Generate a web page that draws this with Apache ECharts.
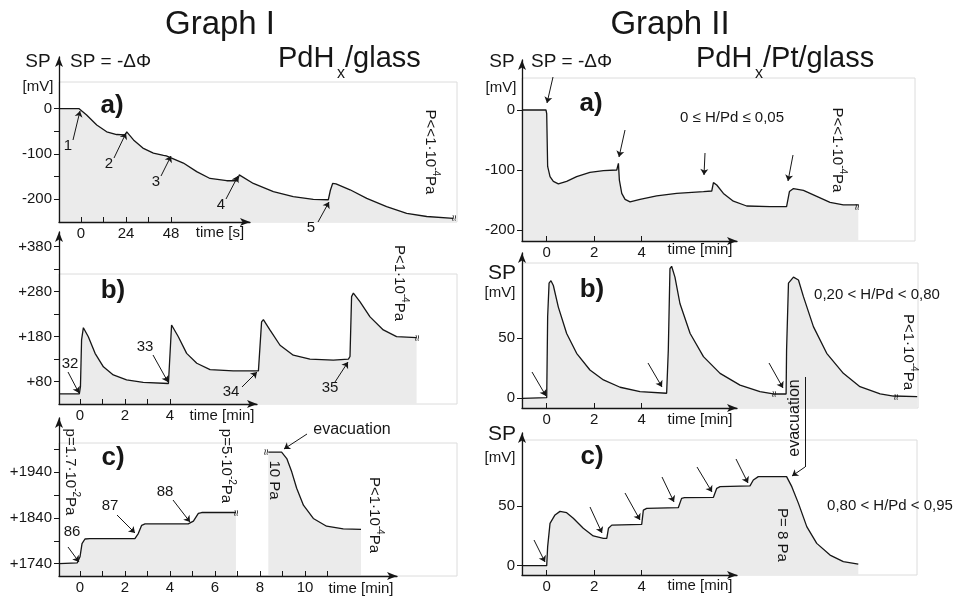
<!DOCTYPE html>
<html>
<head>
<meta charset="utf-8">
<script src="https://cdn.jsdelivr.net/npm/echarts@6/dist/echarts.min.js"></script>
<style>
  html, body { margin: 0; padding: 0; background: #fff; }
  #chart { width: 955px; height: 599px; }
</style>
</head>
<body>
<div id="chart"></div>
<script>
// Graph I a) : time [s], SP [mV]
const iaTime = [-11.7, -1, 0, 3, 8.4, 13.7, 19, 23.5, 24.4, 28, 33, 38.6, 44, 45.5, 46.2, 54.6, 61.7, 68.8, 77.7, 83.4, 84.4, 91.9, 102.6, 113.2, 123.9, 131.9, 133, 134.2, 136, 143.5, 152.4, 163, 173.7, 184.4, 198.6]
const iaSP = [0, 0, -3, -14, -36, -51, -57, -58, -51, -69, -87, -98, -103, -104, -100, -120, -139, -154, -159, -159, -146, -165, -183, -194, -200, -201, -180, -165, -166, -179, -198, -216, -231, -238, -242]

// Graph I b) : time [min]
const ibTime = [-0.93, -0.03, 0.02, 0.07, 0.15, 0.37, 0.67, 1.04, 1.48, 2.07, 2.81, 3.93, 4.0, 4.07, 4.13, 4.37, 4.74, 5.19, 5.78, 6.81, 7.93, 8.0, 8.07, 8.15, 8.44, 8.89, 9.48, 10.22, 11.26, 11.93, 12.0, 12.07, 12.15, 12.44, 12.89, 13.48, 14.07, 14.96]
const ibSP = [53, 53, 69, 173, 200, 180, 143, 113, 95, 84, 78.5, 76, 77, 206, 209, 180, 143, 121, 107, 104, 104, 106, 213, 218, 195, 161, 139, 130, 128, 130, 136, 269, 277, 258, 224, 195, 180, 178]

// Graph I c) : two pieces, gap for the pressure change
const ic1Time = [-0.93, -0.12, 0, 0.09, 0.22, 0.44, 2.44, 2.59, 2.74, 2.89, 4.81, 5.04, 5.26, 5.41, 6.93]
const ic1SP = [1740, 1742, 1755, 1784, 1794, 1795, 1795, 1806, 1824, 1827, 1827, 1833, 1850, 1852, 1852]
const ic2Time = [8.37, 8.96, 9.19, 9.41, 9.63, 9.93, 10.37, 10.96, 11.7, 12.49]
const ic2SP = [1984, 1984, 1970, 1941, 1905, 1868, 1839, 1822, 1816, 1815]

// Graph II a)
const iiaTime = [-1.04, -0.03, 0, 0.04, 0.14, 0.28, 0.49, 0.84, 1.26, 1.82, 2.39, 2.95, 3.02, 3.06, 3.16, 3.3, 3.51, 3.93, 4.63, 5.47, 6.6, 6.95, 7.02, 7.16, 7.44, 7.86, 8.42, 9.4, 10.1, 10.22, 10.39, 10.81, 11.37, 11.93, 12.49, 13.12]
const iiaSP = [0, 0, -6, -94, -111, -119, -123, -119, -111, -104, -101, -100, -89, -117, -139, -149, -153, -149, -143, -139, -136, -135, -121, -125, -139, -152, -160, -161, -161, -136, -131, -134, -144, -154, -158, -158]

// Graph II b)
const iibTime = [-1.02, 0, 0.04, 0.1, 0.18, 0.28, 0.49, 0.84, 1.26, 1.82, 2.39, 3.09, 3.93, 5.05, 5.12, 5.19, 5.26, 5.4, 5.61, 6.04, 6.6, 7.3, 8.14, 8.98, 9.54, 10.08, 10.1, 10.18, 10.39, 10.6, 10.81, 11.23, 11.79, 12.49, 13.19, 14.04, 14.6, 15.6]
const iibSP = [0, 0.5, 68, 96, 98, 94, 76, 54, 37.5, 23.6, 15.3, 9.2, 5.6, 4.2, 40, 108, 110, 101, 79, 54, 34.7, 20.8, 11, 5.6, 3.6, 3.6, 40, 96, 101, 98.6, 84.7, 59.7, 37.5, 20.8, 9.7, 3.6, 1.9, 1.4]

// Graph II c)
const iicTime = [-1.02, 0, 0.04, 0.14, 0.35, 0.56, 0.84, 1.12, 1.54, 1.96, 2.39, 2.53, 2.6, 2.74, 4.0, 4.07, 4.21, 5.54, 5.68, 5.8, 7.02, 7.16, 7.3, 8.56, 8.7, 8.91, 10.1, 10.32, 10.6, 10.95, 11.37, 11.93, 12.49, 13.12]
const iicSP = [0, 0, 16, 35.5, 42.5, 45.5, 44.4, 39.7, 31.3, 24.9, 22.9, 22.9, 31.3, 34, 34.6, 46.6, 48, 48.6, 56.4, 57, 57.3, 64.8, 66.2, 66.8, 71.8, 74.6, 74.6, 66.2, 52.2, 32.7, 18.7, 8.9, 3.4, 1.4]

// tick labels
const iaXLabels = [0, 24, 48]
const iaXTicks = [0, 12, 24, 36, 48]
const iaYLabels = [-200, -100, 0]
const iaYTicks = [-200, -150, -100, -50, 0]
const ibXLabels = [0, 2, 4]
const ibXTicks = [0, 1, 2, 3, 4]
const ibYLabels = [80, 180, 280, 380]
const ibYTicks = [80, 130, 180, 230, 280, 330, 380]
const icXLabels = [0, 2, 4, 6, 8, 10]
const icXTicks = [0, 1, 2, 3, 4, 5, 6, 7, 8, 9, 10, 11]
const icYLabels = [1740, 1840, 1940]
const icYTicks = [1740, 1790, 1840, 1890, 1940, 1990]
const iiXLabels = [0, 2, 4]
const iiaYLabels = [-200, -100, 0]
const iibYLabels = [0, 50]
const iicYLabels = [0, 50]

const zip = (a, b) => a.map((v, i) => [v, b[i]])

const ink = '#161616'
const FONT = "'Liberation Sans', Arial, sans-serif"

// panel geometry (pixels): axis lines, box, and scale reference
const geo = {
  ia: { ax: 59, ay: 222, top: 82, right: 457, yTop: 57, xEnd: 250, x0: 81, xk: 1.875, yRef: 0, yRefPx: 108.7, yk: 0.453 },
  ib: { ax: 59, ay: 404, top: 274, right: 457, yTop: 232, xEnd: 257, x0: 80, xk: 22.5, yRef: 80, yRefPx: 381.7, yk: 0.45 },
  ic: { ax: 59, ay: 576, top: 443, right: 457, yTop: 418, xEnd: 397, x0: 80, xk: 22.5, yRef: 1740, yRefPx: 563.7, yk: 0.457 },
  iia: { ax: 522, ay: 241, top: 78, right: 915, yTop: 60, xEnd: 737, x0: 546.7, xk: 23.75, yRef: 0, yRefPx: 110, yk: 0.6 },
  iib: { ax: 522, ay: 408, top: 263, right: 918, yTop: 253, xEnd: 737, x0: 546.7, xk: 23.75, yRef: 0, yRefPx: 398.3, yk: 1.2 },
  iic: { ax: 522, ay: 575, top: 440, right: 917, yTop: 433, xEnd: 737, x0: 546.7, xk: 23.75, yRef: 0, yRefPx: 565.7, yk: 1.194 }
}

const grids = []
const xAxes = []
const yAxes = []
const series = []

const labelStyle = { color: ink, fontSize: 15, fontFamily: FONT }

function addPanel (p, segments, t, arrows) {
  const xv = px => (px - p.x0) / p.xk
  const yv = py => p.yRef + (p.yRefPx - py) / p.yk
  const gi = grids.length

  // box holding the curve
  grids.push({ left: p.ax, top: p.top, width: p.right - p.ax, height: p.ay - p.top, show: true, borderColor: '#dcdcdc', borderWidth: 1, backgroundColor: '#fff' })
  xAxes.push({ gridIndex: gi, type: 'value', show: false, min: xv(p.ax), max: xv(p.right) })
  yAxes.push({ gridIndex: gi, type: 'value', show: false, min: yv(p.ay), max: yv(p.top) })

  // short x axis with arrow
  grids.push({ left: p.ax, top: p.ay - 10, width: p.xEnd - p.ax, height: 10 })
  xAxes.push({
    gridIndex: gi + 1, type: 'value', z: 5, min: xv(p.ax), max: xv(p.xEnd),
    axisLine: { show: true, onZero: false, symbol: ['none', 'arrow'], symbolSize: [6, 10], lineStyle: { color: ink, width: 1.3 } },
    axisTick: { show: true, inside: true, length: 5, customValues: t.xTicks, lineStyle: { color: ink } },
    axisLabel: { customValues: t.xLabels, margin: 4, ...labelStyle },
    splitLine: { show: false }
  })
  yAxes.push({ gridIndex: gi + 1, type: 'value', show: false, min: 0, max: 1 })

  // tall y axis with arrow
  grids.push({ left: p.ax, top: p.yTop, width: 10, height: p.ay - p.yTop })
  xAxes.push({ gridIndex: gi + 2, type: 'value', show: false, min: 0, max: 1 })
  yAxes.push({
    gridIndex: gi + 2, type: 'value', z: 5, min: yv(p.ay), max: yv(p.yTop),
    axisLine: { show: true, onZero: false, symbol: ['none', 'arrow'], symbolSize: [6, 10], lineStyle: { color: ink, width: 1.3 } },
    axisTick: { show: true, length: 5, customValues: t.yTicks, lineStyle: { color: ink } },
    axisLabel: { customValues: t.yLabels, margin: 7, formatter: t.fmt, ...labelStyle },
    splitLine: { show: false }
  })

  segments.forEach((seg, k) => {
    const s = {
      type: 'line', xAxisIndex: gi, yAxisIndex: gi, data: seg,
      showSymbol: false, symbol: 'none', clip: false, silent: true, z: 2,
      lineStyle: { color: ink, width: 1.3 },
      areaStyle: { color: '#ebebeb', opacity: 1, origin: 'start' }
    }
    if (k === 0 && arrows) {
      s.markLine = {
        silent: true, animation: false, symbol: ['none', 'arrow'], symbolSize: 6,
        label: { show: false },
        lineStyle: { color: ink, width: 1, type: 'solid' },
        data: arrows.map(a => [
          { x: a[0], y: a[1], symbol: 'none' },
          { x: a[2], y: a[3], symbol: a[4] === 0 ? 'none' : 'arrow' }
        ])
      }
    }
    series.push(s)
  })
}

const plus = v => '+' + v

addPanel(geo.ia, [zip(iaTime, iaSP)],
  { xLabels: iaXLabels, xTicks: iaXTicks, yLabels: iaYLabels, yTicks: iaYTicks },
  [[73, 140, 80, 111], [114, 158, 126, 133], [161, 176, 171, 156], [226, 199, 238, 176], [318, 222, 329, 202]])
addPanel(geo.ib, [zip(ibTime, ibSP)],
  { xLabels: ibXLabels, xTicks: ibXTicks, yLabels: ibYLabels, yTicks: ibYTicks, fmt: plus },
  [[68, 372, 79, 393], [153, 355, 168, 382], [242, 387, 257, 372], [335, 382, 348, 362]])
addPanel(geo.ic, [zip(ic1Time, ic1SP), zip(ic2Time, ic2SP)],
  { xLabels: icXLabels, xTicks: icXTicks, yLabels: icYLabels, yTicks: icYTicks, fmt: plus },
  [[68, 547, 79, 562], [117, 515, 135, 533], [173, 500, 190, 522], [307, 434, 284, 449]])
addPanel(geo.iia, [zip(iiaTime, iiaSP)],
  { xLabels: iiXLabels, xTicks: iiXLabels, yLabels: iiaYLabels, yTicks: iiaYLabels },
  [[553, 77, 547, 103], [625, 130, 619, 157], [705, 153, 704, 175], [793, 155, 788, 181]])
addPanel(geo.iib, [zip(iibTime, iibSP)],
  { xLabels: iiXLabels, xTicks: iiXLabels, yLabels: iibYLabels, yTicks: iibYLabels },
  [[532, 372, 546, 396], [648, 363, 662, 387], [769, 363, 783, 388], [805, 377, 805, 467, 0], [805, 467, 792, 476]])
addPanel(geo.iic, [zip(iicTime, iicSP)],
  { xLabels: iiXLabels, xTicks: iiXLabels, yLabels: iicYLabels, yTicks: iicYLabels },
  [[534, 540, 545, 562], [590, 507, 602, 533], [625, 493, 640, 520], [662, 477, 674, 502], [697, 467, 712, 492], [736, 459, 748, 483]])

// text annotations; "^...^" marks a superscript part
function txt (s, x, y, size, o = {}) {
  const parts = s.split('^')
  const rich = parts.length > 1
  const text = rich ? parts.map((p, i) => '{' + (i % 2 ? 's' : 'n') + '|' + p + '}').join('') : s
  const style = { text, fontSize: size, fontFamily: FONT, fontWeight: o.bold ? 'bold' : 'normal', fill: ink, align: o.align || 'center', verticalAlign: 'middle' }
  if (rich) {
    style.rich = {
      n: { fontSize: size, fontFamily: FONT, fill: ink, lineHeight: size + 3, verticalAlign: 'bottom' },
      s: { fontSize: Math.round(size * 0.68), fontFamily: FONT, fill: ink, lineHeight: Math.round(size * 0.7), verticalAlign: 'top' }
    }
  }
  return { type: 'text', x, y, rotation: o.rot || 0, z: 10, style }
}
const down = -Math.PI / 2
const up = Math.PI / 2

const texts = [
  txt('Graph I', 220, 25, 33),
  txt('Graph II', 670, 25, 33),
  txt('PdH', 278, 59, 29, { align: 'left' }),
  txt('x', 337, 74, 16, { align: 'left' }),
  txt('/glass', 345, 59, 29, { align: 'left' }),
  txt('PdH', 696, 59, 29, { align: 'left' }),
  txt('x', 755, 74, 16, { align: 'left' }),
  txt('/Pt/glass', 763, 59, 29, { align: 'left' }),
  txt('SP', 38, 62, 19),
  txt('SP = -ΔΦ', 70, 62, 19, { align: 'left' }),
  txt('[mV]', 38, 87, 15),
  txt('SP', 502, 62, 19),
  txt('SP = -ΔΦ', 531, 62, 19, { align: 'left' }),
  txt('[mV]', 501, 88, 15),
  txt('SP', 502, 273, 21),
  txt('[mV]', 500, 293, 15),
  txt('SP', 502, 434, 21),
  txt('[mV]', 500, 458, 15),

  txt('a)', 112, 106, 26, { bold: true }),
  txt('b)', 113, 291, 26, { bold: true }),
  txt('c)', 113, 458, 26, { bold: true }),
  txt('a)', 591, 104, 26, { bold: true }),
  txt('b)', 592, 290, 26, { bold: true }),
  txt('c)', 592, 457, 26, { bold: true }),

  txt('1', 68, 146, 15), txt('2', 109, 164, 15), txt('3', 156, 182, 15), txt('4', 221, 205, 15), txt('5', 311, 228, 15),
  txt('32', 70, 364, 15), txt('33', 145, 347, 15), txt('34', 231, 392, 15), txt('35', 330, 388, 15),
  txt('86', 72, 532, 15), txt('87', 110, 506, 15), txt('88', 165, 492, 15),
  txt('evacuation', 352, 430, 16),

  txt('time [s]', 220, 233, 15),
  txt('time [min]', 222, 416, 15),
  txt('time [min]', 361, 589, 15),
  txt('time [min]', 700, 250, 15),
  txt('time [min]', 700, 420, 15),
  txt('time [min]', 700, 586, 15),

  txt('P<<1·10^-4^Pa', 432, 152, 15, { rot: down }),
  txt('P<1·10^-4^Pa', 401, 283, 15, { rot: down }),
  txt('p=1.7·10^-2^Pa', 72, 472, 15, { rot: down }),
  txt('p=5·10^-2^Pa', 228, 466, 15, { rot: down }),
  txt('10 Pa', 274, 480, 15, { rot: down }),
  txt('P<1·10^-4^Pa', 376, 515, 15, { rot: down }),
  txt('P<<1·10^-4^Pa', 839, 150, 15, { rot: down }),
  txt('P<1·10^-4^Pa', 910, 352, 15, { rot: down }),
  txt('P= 8 Pa', 782, 535, 15, { rot: down }),
  txt('evacuation', 795, 418, 16, { rot: up }),

  txt('0 ≤ H/Pd ≤ 0,05', 732, 118, 15),
  txt('0,20 < H/Pd < 0,80', 877, 295, 15),
  txt('0,80 < H/Pd < 0,95', 890, 506, 15),

  // break marks
  txt('≈', 455, 218, 12, { rot: up }),
  txt('≈', 418, 338, 12, { rot: up }),
  txt('≈', 237, 513, 12, { rot: up }),
  txt('≈', 267, 452, 12, { rot: up }),
  txt('≈', 858, 207, 12, { rot: up }),
  txt('≈', 775, 394, 12, { rot: up }),
  txt('≈', 897, 397, 12, { rot: up })
]

const chart = echarts.init(document.getElementById('chart'), null, { renderer: 'canvas' })
chart.setOption({
  animation: false,
  backgroundColor: '#fff',
  grid: grids,
  xAxis: xAxes,
  yAxis: yAxes,
  series: series,
  graphic: texts
})
</script>
</body>
</html>
